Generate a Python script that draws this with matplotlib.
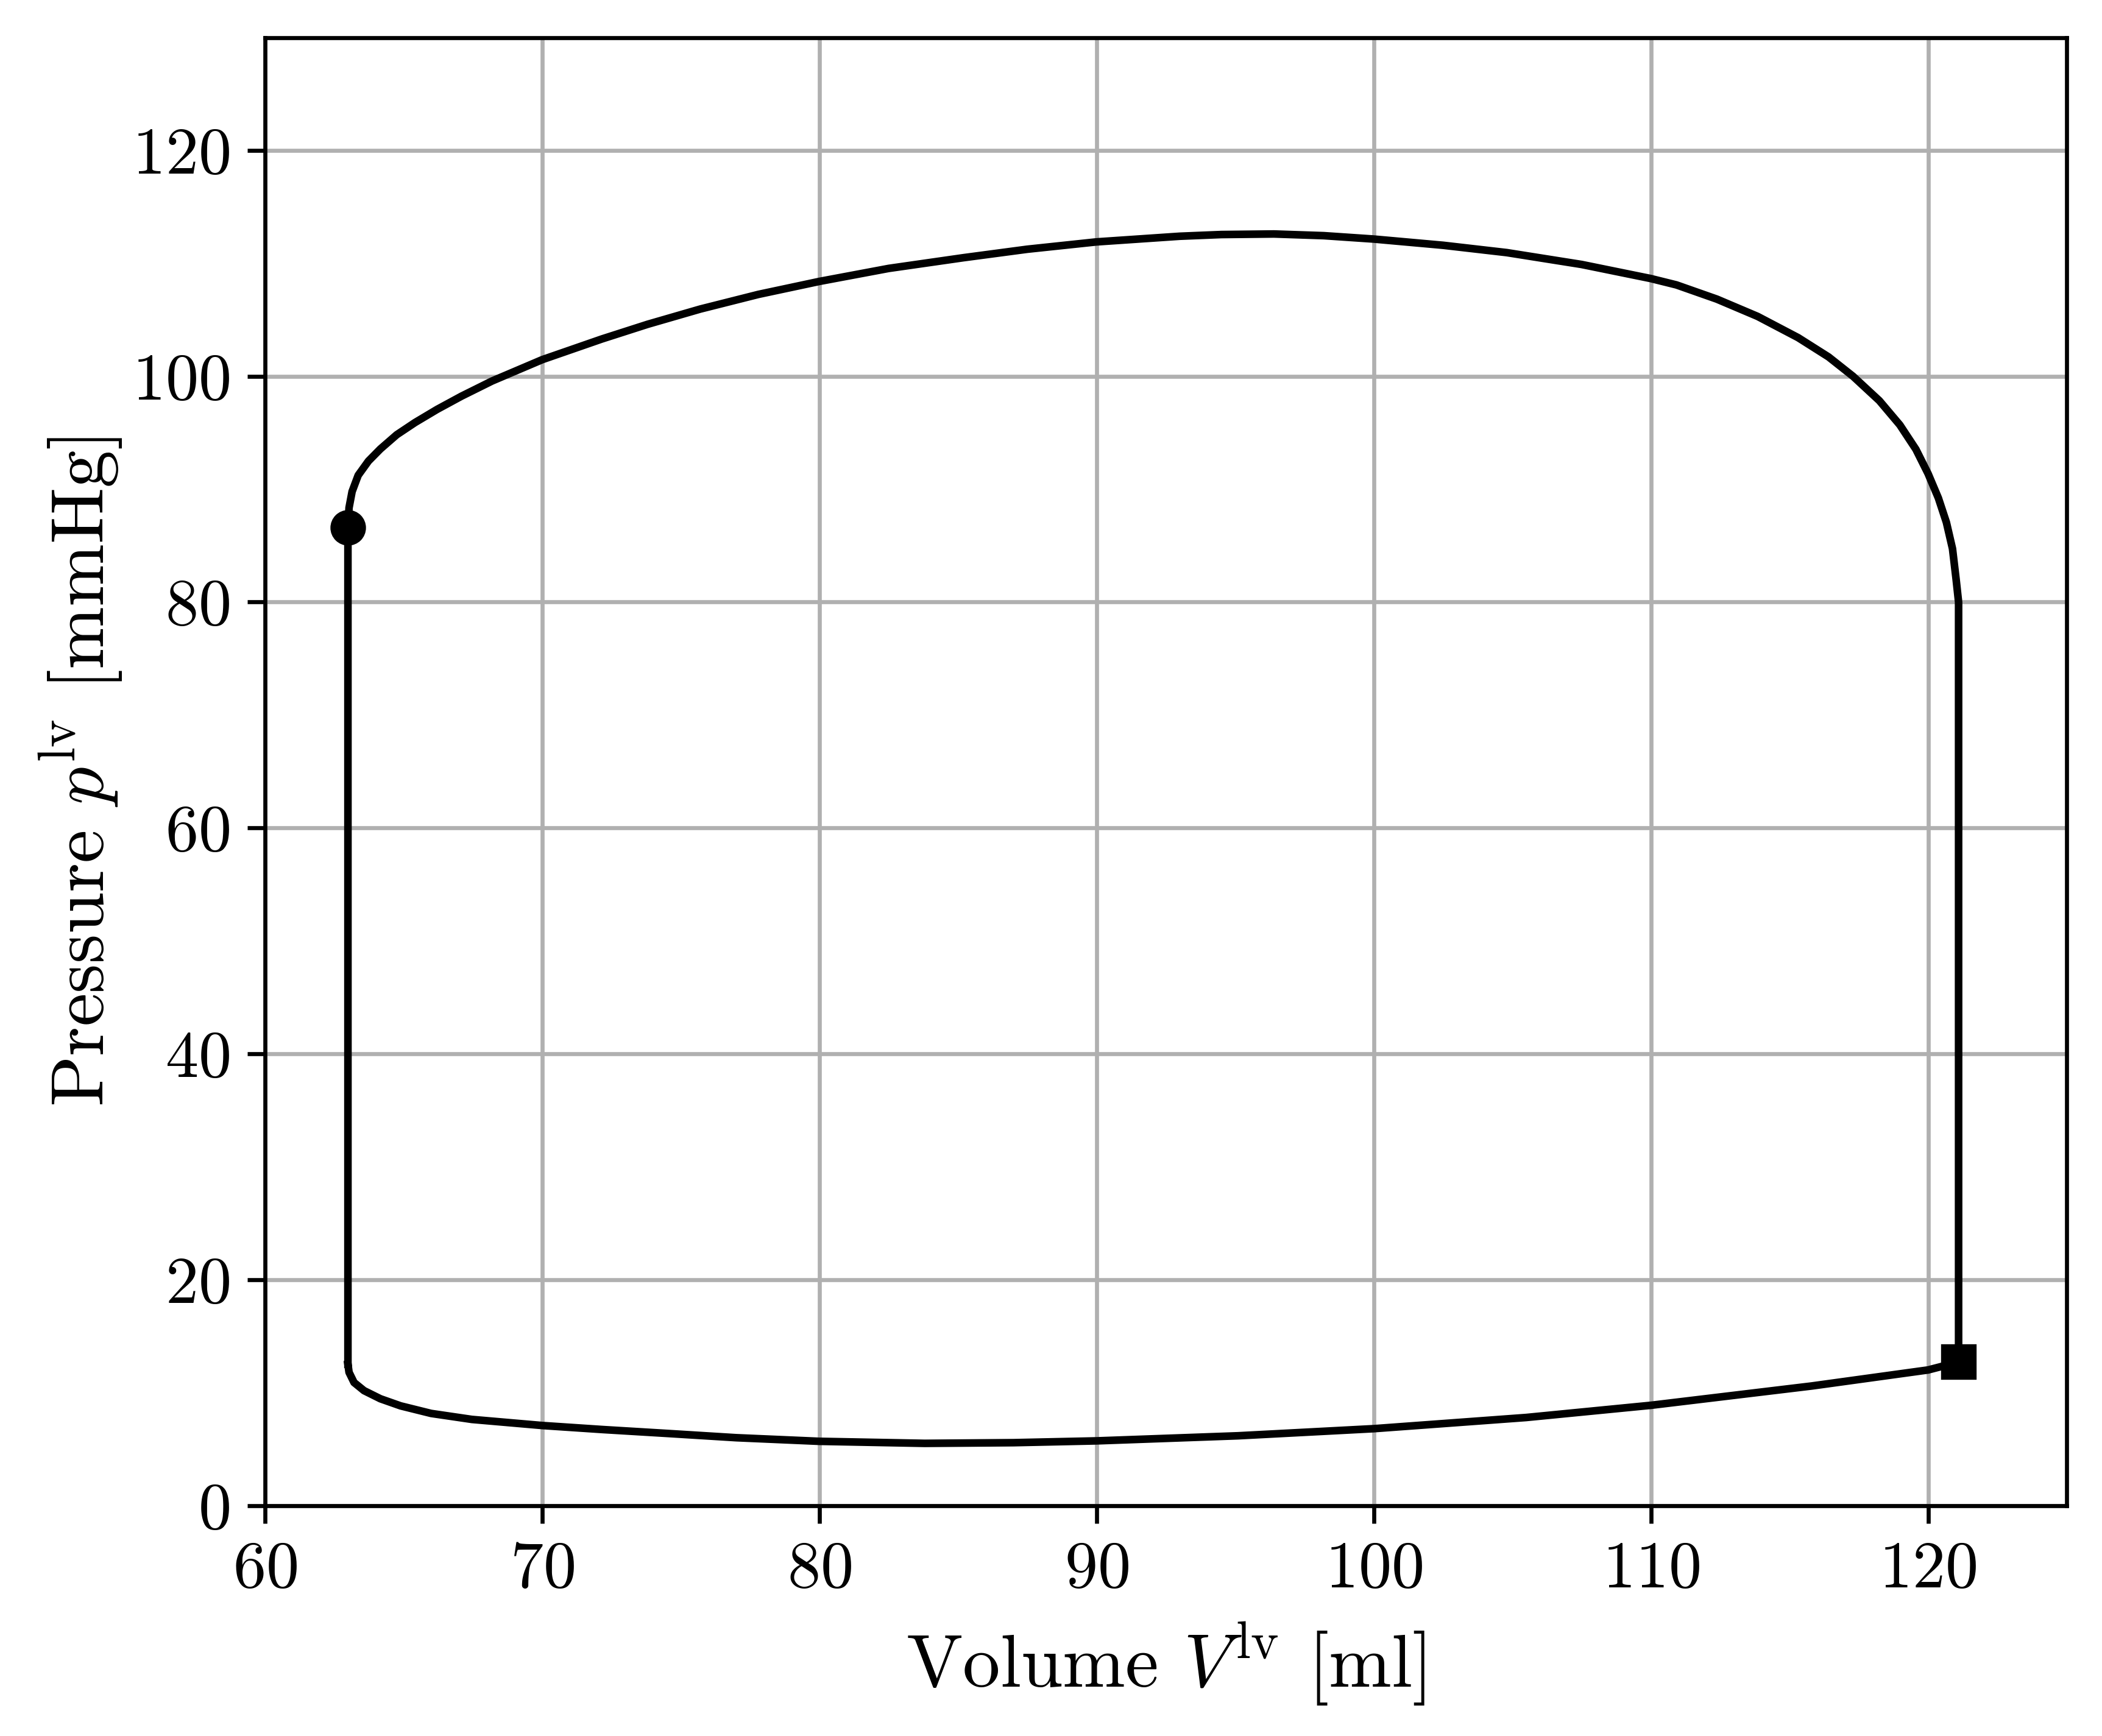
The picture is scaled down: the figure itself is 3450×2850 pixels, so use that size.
import matplotlib
matplotlib.use("Agg")
import matplotlib.pyplot as plt

plt.rcParams['font.family'] = 'serif'
plt.rcParams['font.serif'] = ['cmr10']
plt.rcParams['mathtext.fontset'] = 'cm'
plt.rcParams['axes.unicode_minus'] = False
plt.rcParams['axes.formatter.use_mathtext'] = True

# Filling phase (bottom curve, left -> right)
V_fill = [62.99, 63.03, 63.21, 63.57, 64.16, 64.89, 65.99, 67.46, 70.0, 72.2,
          74.5, 77.0, 80.0, 83.8, 87.0, 90.0, 95.1, 100.0, 105.5, 110.0,
          115.8, 120.0, 121.1]
p_fill = [12.5, 11.79, 10.89, 10.17, 9.45, 8.82, 8.15, 7.62, 7.08, 6.72,
          6.38, 6.0, 5.68, 5.5, 5.56, 5.72, 6.17, 6.8, 7.79, 8.87,
          10.58, 12.0, 12.7]

# Isovolumic contraction (right vertical)
V_contract = [121.1, 121.1, 121.1]
p_contract = [12.7, 76.0, 80.0]

# Ejection (top curve, right -> left)
V_eject = [121.1, 121.01, 120.88, 120.66, 120.37, 120.0, 119.56, 118.98, 118.24,
           117.29, 116.41, 115.31, 113.85, 112.38, 110.92, 110.0, 107.5, 104.8,
           102.5, 100.0, 98.2, 96.4, 94.5, 93.0, 90.0, 87.5, 85.2, 82.5,
           80.0, 77.8, 75.7, 73.8, 72.15, 70.0, 68.19, 67.09, 66.21, 65.41,
           64.75, 64.16, 63.73, 63.36, 63.14, 63.03, 62.99]
p_eject = [80.0, 82.03, 84.73, 87.06, 89.22, 91.37, 93.53, 95.69, 97.84,
           100.0, 101.71, 103.42, 105.30, 106.83, 108.09, 108.65, 109.9, 110.95,
           111.6, 112.15, 112.45, 112.6, 112.55, 112.4, 111.9, 111.25, 110.5, 109.55,
           108.4, 107.25, 105.95, 104.6, 103.3, 101.47, 99.58, 98.24, 97.07, 95.90,
           94.82, 93.56, 92.49, 91.23, 89.79, 88.36, 86.59]

# Isovolumic relaxation (left vertical)
V_relax = [62.99, 62.99]
p_relax = [86.59, 12.5]

xticks = [60, 70, 80, 90, 100, 110, 120]
yticks = [0, 20, 40, 60, 80, 100, 120]

fig = plt.figure(figsize=(5.75, 4.75), dpi=600)
ax = fig.add_axes([0.1261, 0.1328, 0.9832 - 0.1261, 0.9784 - 0.1328])

V = V_fill + V_contract[1:] + V_eject[1:] + V_relax[1:]
p = p_fill + p_contract[1:] + p_eject[1:] + p_relax[1:]
ax.plot(V, p, color='black', lw=1.5)
ax.plot([V_eject[-1]], [p_eject[-1]], 'o', color='black', ms=6)
ax.plot([V_fill[-1]], [p_fill[-1]], 's', color='black', ms=6)

ax.set_xlim(60, 125)
ax.set_ylim(0, 130)
ax.set_xticks(xticks)
ax.set_yticks(yticks)
ax.tick_params(labelsize=13)
ax.grid(True)
ax.set_xlabel(r'Volume $V^{\mathrm{lv}}$ [ml]', fontsize=14.8)
ax.set_ylabel(r'Pressure $p^{\mathrm{lv}}$ [mmHg]', fontsize=14.8, labelpad=1.5)

fig.savefig('out.png', dpi=600)
